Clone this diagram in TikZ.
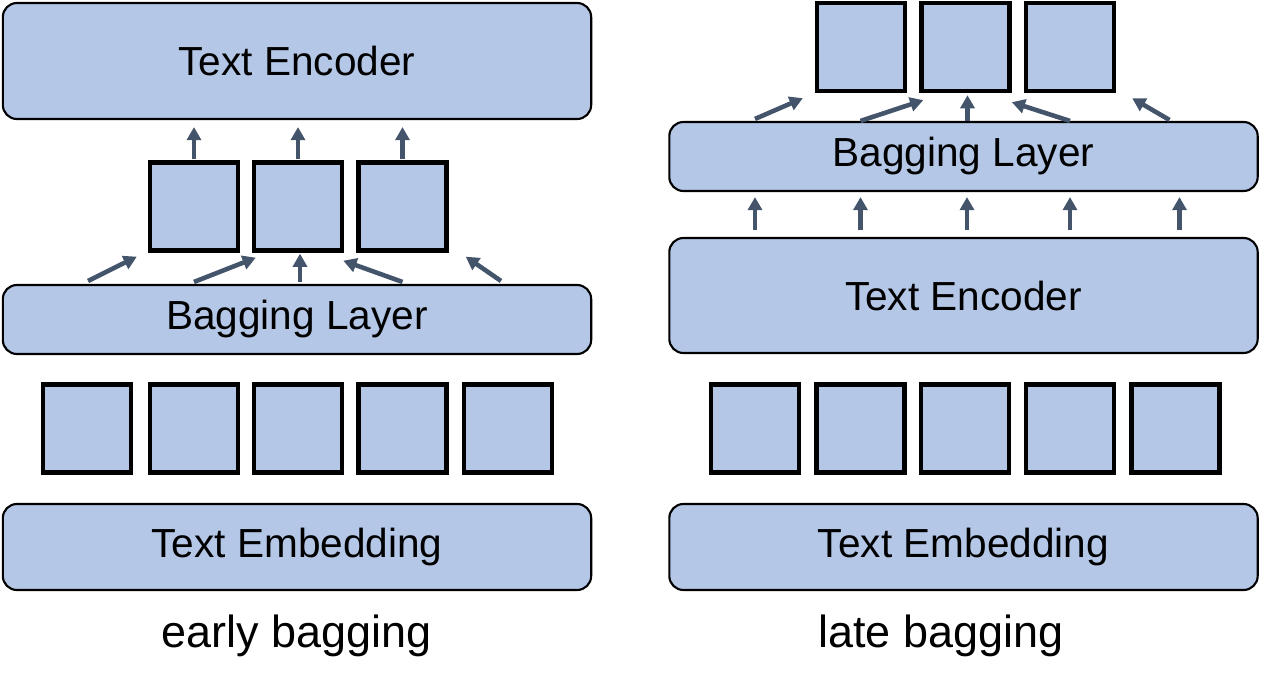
\documentclass[tikz,border=0pt]{standalone}
\usepackage{fontspec}
\setmainfont{Liberation Sans}
\usepackage{tikz}
\usetikzlibrary{arrows.meta,positioning,calc}
\definecolor{boxblue}{HTML}{B4C7E7}
\definecolor{arrowgray}{HTML}{44546A}

\begin{document}
\begin{tikzpicture}[
  x=0.02cm, y=-0.02cm,
  block/.style={draw, line width=1.2pt, fill=boxblue, rounded corners=8pt, minimum width=11.77cm, inner sep=0pt, font=\fontsize{23.1}{27}\selectfont},
  tok/.style={draw, line width=2.5pt, fill=boxblue, minimum width=1.76cm, minimum height=1.76cm, inner sep=0pt},
  arr/.style={-{Triangle[length=7.5pt,width=8pt]}, line width=2.6pt, arrowgray},
  caption/.style={font=\fontsize{25.6}{30}\selectfont}
]
\useasboundingbox (0,0) rectangle (1262,689);
% early bagging
\node[block, minimum height=2.32cm] (encL) at (297,61) {Text Encoder};
\node[tok] (mL1) at (194,206.5) {};
\node[tok] (mL2) at (298,206.5) {};
\node[tok] (mL3) at (402.5,206.5) {};
\node[block, minimum height=1.38cm] (bagL) at (297,319.5) {Bagging Layer};
\node[tok] (eL1) at (87,428.5) {};
\node[tok] (eL2) at (194,428.5) {};
\node[tok] (eL3) at (298,428.5) {};
\node[tok] (eL4) at (402.5,428.5) {};
\node[tok] (eL5) at (508,428.5) {};
\node[block, minimum height=1.72cm] (embL) at (297,547) {Text Embedding};
\node[caption] (capL) at (297,636) {early bagging};

\draw[arr, shorten <=0.02cm, shorten >=0.14cm] (mL1.north) -- (mL1 |- encL.south);
\draw[arr, shorten <=0.02cm, shorten >=0.14cm] (mL2.north) -- (mL2 |- encL.south);
\draw[arr, shorten <=0.02cm, shorten >=0.14cm] (mL3.north) -- (mL3 |- encL.south);
\draw[arr] ($(eL1 |- bagL.north)+(1,-3)$) -- ($(mL1.south west)+(-11,4)$);
\draw[arr] ($(mL1 |- bagL.north)+(0,-2)$) -- ($(mL2.south west)+(4,5)$);
\draw[arr] ($(mL2 |- bagL.north)+(2,-2)$) -- ($(mL2.south)+(2,1)$);
\draw[arr] ($(mL3 |- bagL.north)+(0,-2)$) -- ($(mL3.south west)+(-13,8)$);
\draw[arr] ($(eL5 |- bagL.north)+(-7,-3)$) -- ($(mL3.south east)+(17,4)$);

% late bagging
\node[tok] (tR1) at (861,47) {};
\node[tok] (tR2) at (965.5,47) {};
\node[tok] (tR3) at (1070,47) {};
\node[block, minimum height=1.38cm] (bagR) at (963.5,156.5) {Bagging Layer};
\node[block, minimum height=2.30cm] (encR) at (963.5,295.5) {Text Encoder};
\node[tok] (eR1) at (755,428.5) {};
\node[tok] (eR2) at (860.5,428.5) {};
\node[tok] (eR3) at (965,428.5) {};
\node[tok] (eR4) at (1070,428.5) {};
\node[tok] (eR5) at (1175.5,428.5) {};
\node[block, minimum height=1.72cm] (embR) at (963.5,547) {Text Embedding};
\node[caption] (capR) at (941,636) {late bagging};

\draw[arr] ($(eR1 |- bagR.north)+(0,-2)$) -- ($(tR1.south west)+(-12,5)$);
\draw[arr] (eR2 |- bagR.north) -- ($(tR2.south west)+(4,7)$);
\draw[arr] ($(tR2.south |- bagR.north)+(2,0)$) -- ($(tR2.south)+(2,2)$);
\draw[arr] (tR3.south |- bagR.north) -- ($(tR3.south west)+(-12,9)$);
\draw[arr] ($(eR5 |- bagR.north)+(-6,-1)$) -- ($(tR3.south east)+(16,5)$);
\draw[arr, shorten <=0.14cm, shorten >=0.1cm] (eR1 |- encR.north) -- (eR1 |- bagR.south);
\draw[arr, shorten <=0.14cm, shorten >=0.1cm] (eR2 |- encR.north) -- (eR2 |- bagR.south);
\draw[arr, shorten <=0.14cm, shorten >=0.1cm] ($(eR3 |- encR.north)+(2,0)$) -- ($(eR3 |- bagR.south)+(2,0)$);
\draw[arr, shorten <=0.14cm, shorten >=0.1cm] (eR4 |- encR.north) -- (eR4 |- bagR.south);
\draw[arr, shorten <=0.14cm, shorten >=0.1cm] ($(eR5 |- encR.north)+(4,0)$) -- ($(eR5 |- bagR.south)+(4,0)$);
\end{tikzpicture}
\end{document}
